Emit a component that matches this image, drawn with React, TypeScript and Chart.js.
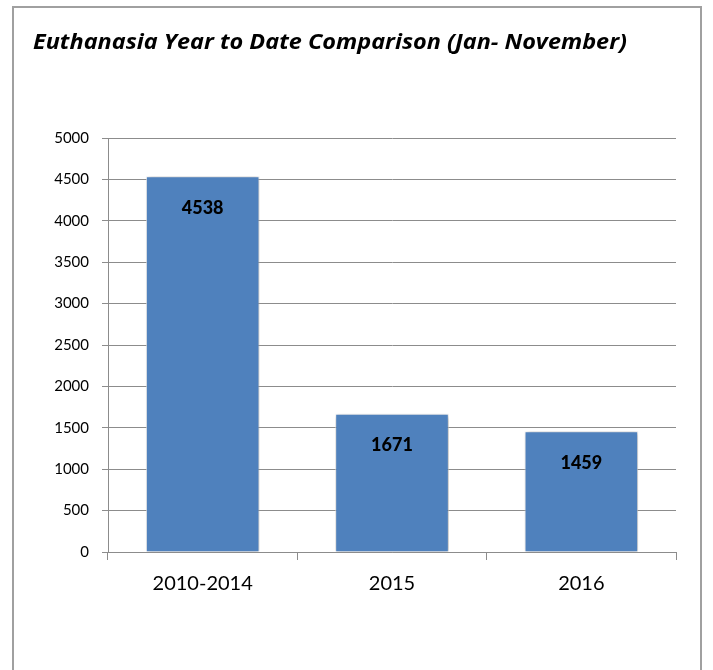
import React, { useEffect, useRef } from "react";
import { Chart, registerables } from "chart.js";

Chart.register(...registerables);

const TITLE = "Euthanasia Year to Date Comparison (Jan- November)";
const categories = ["2010-2014", "2015", "2016"];
const values = [4538, 1671, 1459];
const yMin = 0;
const yMax = 5000;
const yStep = 500;

const FONT = "Lato, 'Open Sans', sans-serif";
const TITLE_FONT = "'Open Sans', Lato, sans-serif";
const GRID = "#8c8c8c";

const framePlugin = {
  id: "frame",
  beforeDraw(chart: any) {
    const ctx = chart.ctx;
    ctx.save();
    ctx.fillStyle = "#ffffff";
    ctx.fillRect(0, 0, chart.width, chart.height);
    ctx.strokeStyle = "#a0a0a0";
    ctx.lineWidth = 2;
    ctx.strokeRect(13, 7, 688, chart.height + 20);
    ctx.fillStyle = "#000000";
    ctx.font = `italic bold 22px ${TITLE_FONT}`;
    ctx.textBaseline = "alphabetic";
    ctx.textAlign = "left";
    const w = ctx.measureText(TITLE).width;
    const target = 594;
    ctx.translate(33, 49);
    ctx.scale(target / w, 1);
    ctx.fillText(TITLE, 0, 0);
    ctx.restore();
  },
  beforeDatasetsDraw(chart: any) {
    const ctx = chart.ctx;
    ctx.save();
    ctx.shadowColor = "rgba(0,0,0,0.35)";
    ctx.shadowBlur = 5;
    ctx.shadowOffsetX = 1;
    ctx.shadowOffsetY = 1;
  },
  afterDatasetsDraw(chart: any) {
    const ctx = chart.ctx;
    ctx.restore();
    ctx.save();
    ctx.fillStyle = "#000000";
    ctx.font = `900 18px ${FONT}`;
    ctx.textAlign = "center";
    ctx.textBaseline = "middle";
    const meta = chart.getDatasetMeta(0);
    meta.data.forEach((bar: any, i: number) => {
      ctx.fillText(String(values[i]), bar.x, bar.y + 32);
    });
    ctx.restore();
  },
};

export default function App() {
  const ref = useRef<HTMLCanvasElement>(null);
  useEffect(() => {
    if (!ref.current) return;
    const chart = new Chart(ref.current, {
      type: "bar",
      data: {
        labels: categories,
        datasets: [
          {
            data: values,
            backgroundColor: "#4F81BD",
            borderColor: "rgba(255,255,255,0.75)",
            borderWidth: 1,
            barPercentage: 0.6,
            categoryPercentage: 1,
          },
        ],
      },
      options: {
        animation: false,
        responsive: true,
        maintainAspectRatio: false,
        layout: { padding: { top: 138, right: 37, left: 0, bottom: 0 } },
        plugins: { legend: { display: false }, tooltip: { enabled: false }, title: { display: false } },
        scales: {
          x: {
            afterFit(scale: any) {
              scale.height = 118;
            },
            grid: {
              display: true,
              drawOnChartArea: false,
              drawTicks: true,
              tickLength: 8,
              color: GRID,
              offset: true,
            },
            border: { display: true, color: GRID, width: 1 },
            ticks: { color: "#000000", font: { family: FONT, size: 20 }, padding: 12 },
          },
          y: {
            min: yMin,
            max: yMax,
            afterFit(scale: any) {
              scale.width = 108;
            },
            ticks: {
              stepSize: yStep,
              color: "#000000",
              font: { family: FONT, size: 15 },
              padding: 13,
              callback: (v: any) => String(v),
            },
            grid: { color: GRID, lineWidth: 1, tickLength: 6, drawTicks: true },
            border: { display: true, color: GRID, width: 1 },
          },
        },
      },
      plugins: [framePlugin],
    });
    return () => chart.destroy();
  }, []);
  return (
    <div style={{ position: "absolute", left: 0, top: 0, width: 713, height: 670 }}>
      <canvas ref={ref} />
    </div>
  );
}
